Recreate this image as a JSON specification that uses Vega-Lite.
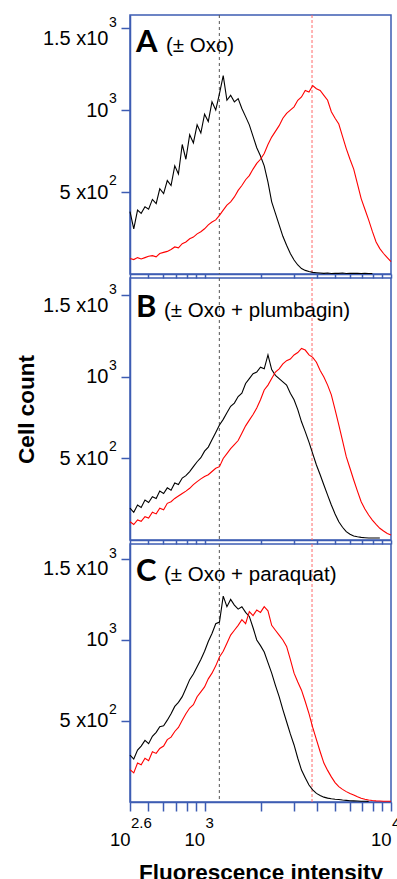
{
"$schema": "https://vega.github.io/schema/vega-lite/v6.json",
"padding": {"left": 14, "top": 13, "right": 0, "bottom": 0},
"background": "white",
"spacing": 4,
"bounds": "flush",
"config": {
  "font": "Liberation Sans",
  "view": {"stroke": "#3d5cb3", "strokeWidth": 1.5},
  "axis": {"grid": false, "domainColor": "#3d5cb3", "domainWidth": 1.5, "tickColor": "#3d5cb3", "tickWidth": 1.5, "labelColor": "#000000", "labelFont": "Liberation Sans", "titleFont": "Liberation Sans", "titleColor": "#000000"}
},
"datasets": {
  "modes": [{"line": "ctrl", "fi": 1200}, {"line": "oxo", "fi": 3770}],
  "tags": [
    {"panel": "A", "tag": "A", "desc": "(± Oxo)"},
    {"panel": "B", "tag": "B", "desc": "(± Oxo + plumbagin)"},
    {"panel": "C", "tag": "C", "desc": "(± Oxo + paraquat)"}
  ],
  "yexp": [{"n": 1500, "e": "3"}, {"n": 1000, "e": "3"}, {"n": 500, "e": "2"}],
  "xexp": [{"fi": 398.1, "e": "2.6"}, {"fi": 1000, "e": "3"}, {"fi": 10000, "e": "4"}],
  "hist": [
{"panel":"A","line":"ctrl","fi":398.1,"n":380},{"panel":"A","line":"ctrl","fi":417,"n":275},{"panel":"A","line":"ctrl","fi":437,"n":390},{"panel":"A","line":"ctrl","fi":457,"n":370},{"panel":"A","line":"ctrl","fi":479,"n":410},{"panel":"A","line":"ctrl","fi":501,"n":395},{"panel":"A","line":"ctrl","fi":525,"n":455},{"panel":"A","line":"ctrl","fi":550,"n":430},{"panel":"A","line":"ctrl","fi":575,"n":520},{"panel":"A","line":"ctrl","fi":603,"n":490},
{"panel":"A","line":"ctrl","fi":631,"n":570},{"panel":"A","line":"ctrl","fi":661,"n":540},{"panel":"A","line":"ctrl","fi":692,"n":660},{"panel":"A","line":"ctrl","fi":724,"n":610},{"panel":"A","line":"ctrl","fi":759,"n":790},{"panel":"A","line":"ctrl","fi":794,"n":700},{"panel":"A","line":"ctrl","fi":832,"n":850},{"panel":"A","line":"ctrl","fi":871,"n":800},{"panel":"A","line":"ctrl","fi":912,"n":910},{"panel":"A","line":"ctrl","fi":955,"n":860},
{"panel":"A","line":"ctrl","fi":1000,"n":975},{"panel":"A","line":"ctrl","fi":1047,"n":930},{"panel":"A","line":"ctrl","fi":1096,"n":1050},{"panel":"A","line":"ctrl","fi":1148,"n":1000},{"panel":"A","line":"ctrl","fi":1202,"n":1100},{"panel":"A","line":"ctrl","fi":1259,"n":1210},{"panel":"A","line":"ctrl","fi":1318,"n":1060},{"panel":"A","line":"ctrl","fi":1380,"n":1090},{"panel":"A","line":"ctrl","fi":1445,"n":1050},{"panel":"A","line":"ctrl","fi":1514,"n":1070},
{"panel":"A","line":"ctrl","fi":1585,"n":1010},{"panel":"A","line":"ctrl","fi":1660,"n":960},{"panel":"A","line":"ctrl","fi":1738,"n":910},{"panel":"A","line":"ctrl","fi":1820,"n":840},{"panel":"A","line":"ctrl","fi":1905,"n":770},{"panel":"A","line":"ctrl","fi":1995,"n":720},{"panel":"A","line":"ctrl","fi":2089,"n":660},{"panel":"A","line":"ctrl","fi":2188,"n":560},{"panel":"A","line":"ctrl","fi":2291,"n":440},{"panel":"A","line":"ctrl","fi":2399,"n":370},
{"panel":"A","line":"ctrl","fi":2512,"n":300},{"panel":"A","line":"ctrl","fi":2630,"n":230},{"panel":"A","line":"ctrl","fi":2754,"n":175},{"panel":"A","line":"ctrl","fi":2884,"n":125},{"panel":"A","line":"ctrl","fi":3020,"n":85},{"panel":"A","line":"ctrl","fi":3162,"n":55},{"panel":"A","line":"ctrl","fi":3311,"n":33},{"panel":"A","line":"ctrl","fi":3467,"n":22},{"panel":"A","line":"ctrl","fi":3631,"n":15},{"panel":"A","line":"ctrl","fi":3802,"n":10},
{"panel":"A","line":"ctrl","fi":3981,"n":8},{"panel":"A","line":"ctrl","fi":4169,"n":6},{"panel":"A","line":"ctrl","fi":4365,"n":4},{"panel":"A","line":"ctrl","fi":4571,"n":6},{"panel":"A","line":"ctrl","fi":4786,"n":3},{"panel":"A","line":"ctrl","fi":5012,"n":5},{"panel":"A","line":"ctrl","fi":5248,"n":4},{"panel":"A","line":"ctrl","fi":5495,"n":6},{"panel":"A","line":"ctrl","fi":5754,"n":3},{"panel":"A","line":"ctrl","fi":6026,"n":5},
{"panel":"A","line":"ctrl","fi":6310,"n":4},{"panel":"A","line":"ctrl","fi":6607,"n":5},{"panel":"A","line":"ctrl","fi":6918,"n":3},{"panel":"A","line":"ctrl","fi":7244,"n":4},{"panel":"A","line":"ctrl","fi":7586,"n":3},{"panel":"A","line":"ctrl","fi":7943,"n":3},
{"panel":"A","line":"oxo","fi":398.1,"n":95},{"panel":"A","line":"oxo","fi":417,"n":88},{"panel":"A","line":"oxo","fi":437,"n":100},{"panel":"A","line":"oxo","fi":457,"n":92},{"panel":"A","line":"oxo","fi":479,"n":100},{"panel":"A","line":"oxo","fi":501,"n":108},{"panel":"A","line":"oxo","fi":525,"n":112},{"panel":"A","line":"oxo","fi":550,"n":105},{"panel":"A","line":"oxo","fi":575,"n":125},{"panel":"A","line":"oxo","fi":603,"n":132},
{"panel":"A","line":"oxo","fi":631,"n":138},{"panel":"A","line":"oxo","fi":661,"n":150},{"panel":"A","line":"oxo","fi":692,"n":165},{"panel":"A","line":"oxo","fi":724,"n":160},{"panel":"A","line":"oxo","fi":759,"n":185},{"panel":"A","line":"oxo","fi":794,"n":195},{"panel":"A","line":"oxo","fi":832,"n":215},{"panel":"A","line":"oxo","fi":871,"n":225},{"panel":"A","line":"oxo","fi":912,"n":245},{"panel":"A","line":"oxo","fi":955,"n":258},
{"panel":"A","line":"oxo","fi":1000,"n":276},{"panel":"A","line":"oxo","fi":1047,"n":300},{"panel":"A","line":"oxo","fi":1096,"n":317},{"panel":"A","line":"oxo","fi":1148,"n":330},{"panel":"A","line":"oxo","fi":1202,"n":358},{"panel":"A","line":"oxo","fi":1259,"n":390},{"panel":"A","line":"oxo","fi":1318,"n":420},{"panel":"A","line":"oxo","fi":1380,"n":440},{"panel":"A","line":"oxo","fi":1445,"n":470},{"panel":"A","line":"oxo","fi":1514,"n":510},
{"panel":"A","line":"oxo","fi":1585,"n":540},{"panel":"A","line":"oxo","fi":1660,"n":575},{"panel":"A","line":"oxo","fi":1738,"n":600},{"panel":"A","line":"oxo","fi":1820,"n":640},{"panel":"A","line":"oxo","fi":1905,"n":675},{"panel":"A","line":"oxo","fi":1995,"n":700},{"panel":"A","line":"oxo","fi":2089,"n":735},{"panel":"A","line":"oxo","fi":2188,"n":790},{"panel":"A","line":"oxo","fi":2291,"n":835},{"panel":"A","line":"oxo","fi":2399,"n":870},
{"panel":"A","line":"oxo","fi":2512,"n":905},{"panel":"A","line":"oxo","fi":2630,"n":950},{"panel":"A","line":"oxo","fi":2754,"n":980},{"panel":"A","line":"oxo","fi":2884,"n":1000},{"panel":"A","line":"oxo","fi":3020,"n":1020},{"panel":"A","line":"oxo","fi":3162,"n":1060},{"panel":"A","line":"oxo","fi":3311,"n":1080},{"panel":"A","line":"oxo","fi":3467,"n":1120},{"panel":"A","line":"oxo","fi":3631,"n":1110},{"panel":"A","line":"oxo","fi":3802,"n":1150},
{"panel":"A","line":"oxo","fi":3981,"n":1130},{"panel":"A","line":"oxo","fi":4169,"n":1120},{"panel":"A","line":"oxo","fi":4365,"n":1090},{"panel":"A","line":"oxo","fi":4571,"n":1060},{"panel":"A","line":"oxo","fi":4786,"n":990},{"panel":"A","line":"oxo","fi":5012,"n":950},{"panel":"A","line":"oxo","fi":5248,"n":915},{"panel":"A","line":"oxo","fi":5495,"n":840},{"panel":"A","line":"oxo","fi":5754,"n":765},{"panel":"A","line":"oxo","fi":6026,"n":700},
{"panel":"A","line":"oxo","fi":6310,"n":640},{"panel":"A","line":"oxo","fi":6607,"n":550},{"panel":"A","line":"oxo","fi":6918,"n":460},{"panel":"A","line":"oxo","fi":7244,"n":395},{"panel":"A","line":"oxo","fi":7586,"n":330},{"panel":"A","line":"oxo","fi":7943,"n":260},{"panel":"A","line":"oxo","fi":8318,"n":195},{"panel":"A","line":"oxo","fi":8710,"n":155},{"panel":"A","line":"oxo","fi":9120,"n":125},{"panel":"A","line":"oxo","fi":9550,"n":100},
{"panel":"A","line":"oxo","fi":10000,"n":75},
{"panel":"B","line":"ctrl","fi":398.1,"n":195},{"panel":"B","line":"ctrl","fi":417,"n":170},{"panel":"B","line":"ctrl","fi":437,"n":215},{"panel":"B","line":"ctrl","fi":457,"n":200},{"panel":"B","line":"ctrl","fi":479,"n":245},{"panel":"B","line":"ctrl","fi":501,"n":230},{"panel":"B","line":"ctrl","fi":525,"n":265},{"panel":"B","line":"ctrl","fi":550,"n":255},{"panel":"B","line":"ctrl","fi":575,"n":300},{"panel":"B","line":"ctrl","fi":603,"n":285},
{"panel":"B","line":"ctrl","fi":631,"n":320},{"panel":"B","line":"ctrl","fi":661,"n":305},{"panel":"B","line":"ctrl","fi":692,"n":350},{"panel":"B","line":"ctrl","fi":724,"n":340},{"panel":"B","line":"ctrl","fi":759,"n":380},{"panel":"B","line":"ctrl","fi":794,"n":395},{"panel":"B","line":"ctrl","fi":832,"n":420},{"panel":"B","line":"ctrl","fi":871,"n":450},{"panel":"B","line":"ctrl","fi":912,"n":480},{"panel":"B","line":"ctrl","fi":955,"n":505},
{"panel":"B","line":"ctrl","fi":1000,"n":545},{"panel":"B","line":"ctrl","fi":1047,"n":570},{"panel":"B","line":"ctrl","fi":1096,"n":615},{"panel":"B","line":"ctrl","fi":1148,"n":660},{"panel":"B","line":"ctrl","fi":1202,"n":705},{"panel":"B","line":"ctrl","fi":1259,"n":740},{"panel":"B","line":"ctrl","fi":1318,"n":780},{"panel":"B","line":"ctrl","fi":1380,"n":820},{"panel":"B","line":"ctrl","fi":1445,"n":840},{"panel":"B","line":"ctrl","fi":1514,"n":880},
{"panel":"B","line":"ctrl","fi":1585,"n":900},{"panel":"B","line":"ctrl","fi":1660,"n":960},{"panel":"B","line":"ctrl","fi":1738,"n":990},{"panel":"B","line":"ctrl","fi":1820,"n":1020},{"panel":"B","line":"ctrl","fi":1905,"n":1030},{"panel":"B","line":"ctrl","fi":1995,"n":1060},{"panel":"B","line":"ctrl","fi":2089,"n":1050},{"panel":"B","line":"ctrl","fi":2188,"n":1135},{"panel":"B","line":"ctrl","fi":2291,"n":1045},{"panel":"B","line":"ctrl","fi":2399,"n":1010},
{"panel":"B","line":"ctrl","fi":2512,"n":990},{"panel":"B","line":"ctrl","fi":2630,"n":970},{"panel":"B","line":"ctrl","fi":2754,"n":950},{"panel":"B","line":"ctrl","fi":2884,"n":900},{"panel":"B","line":"ctrl","fi":3020,"n":860},{"panel":"B","line":"ctrl","fi":3162,"n":800},{"panel":"B","line":"ctrl","fi":3311,"n":725},{"panel":"B","line":"ctrl","fi":3467,"n":665},{"panel":"B","line":"ctrl","fi":3631,"n":600},{"panel":"B","line":"ctrl","fi":3802,"n":530},
{"panel":"B","line":"ctrl","fi":3981,"n":460},{"panel":"B","line":"ctrl","fi":4169,"n":400},{"panel":"B","line":"ctrl","fi":4365,"n":337},{"panel":"B","line":"ctrl","fi":4571,"n":275},{"panel":"B","line":"ctrl","fi":4786,"n":215},{"panel":"B","line":"ctrl","fi":5012,"n":160},{"panel":"B","line":"ctrl","fi":5248,"n":112},{"panel":"B","line":"ctrl","fi":5495,"n":78},{"panel":"B","line":"ctrl","fi":5754,"n":51},{"panel":"B","line":"ctrl","fi":6026,"n":35},
{"panel":"B","line":"ctrl","fi":6310,"n":25},{"panel":"B","line":"ctrl","fi":6607,"n":20},{"panel":"B","line":"ctrl","fi":6918,"n":16},{"panel":"B","line":"ctrl","fi":7244,"n":14},{"panel":"B","line":"ctrl","fi":7586,"n":12},{"panel":"B","line":"ctrl","fi":7943,"n":12},{"panel":"B","line":"ctrl","fi":8318,"n":12},{"panel":"B","line":"ctrl","fi":8710,"n":12},
{"panel":"B","line":"oxo","fi":398.1,"n":112},{"panel":"B","line":"oxo","fi":417,"n":95},{"panel":"B","line":"oxo","fi":437,"n":123},{"panel":"B","line":"oxo","fi":457,"n":115},{"panel":"B","line":"oxo","fi":479,"n":143},{"panel":"B","line":"oxo","fi":501,"n":135},{"panel":"B","line":"oxo","fi":525,"n":170},{"panel":"B","line":"oxo","fi":550,"n":160},{"panel":"B","line":"oxo","fi":575,"n":195},{"panel":"B","line":"oxo","fi":603,"n":185},
{"panel":"B","line":"oxo","fi":631,"n":225},{"panel":"B","line":"oxo","fi":661,"n":235},{"panel":"B","line":"oxo","fi":692,"n":255},{"panel":"B","line":"oxo","fi":724,"n":270},{"panel":"B","line":"oxo","fi":759,"n":285},{"panel":"B","line":"oxo","fi":794,"n":300},{"panel":"B","line":"oxo","fi":832,"n":317},{"panel":"B","line":"oxo","fi":871,"n":340},{"panel":"B","line":"oxo","fi":912,"n":358},{"panel":"B","line":"oxo","fi":955,"n":375},
{"panel":"B","line":"oxo","fi":1000,"n":390},{"panel":"B","line":"oxo","fi":1047,"n":400},{"panel":"B","line":"oxo","fi":1096,"n":420},{"panel":"B","line":"oxo","fi":1148,"n":440},{"panel":"B","line":"oxo","fi":1202,"n":450},{"panel":"B","line":"oxo","fi":1259,"n":500},{"panel":"B","line":"oxo","fi":1318,"n":530},{"panel":"B","line":"oxo","fi":1380,"n":560},{"panel":"B","line":"oxo","fi":1445,"n":585},{"panel":"B","line":"oxo","fi":1514,"n":610},
{"panel":"B","line":"oxo","fi":1585,"n":655},{"panel":"B","line":"oxo","fi":1660,"n":700},{"panel":"B","line":"oxo","fi":1738,"n":735},{"panel":"B","line":"oxo","fi":1820,"n":770},{"panel":"B","line":"oxo","fi":1905,"n":810},{"panel":"B","line":"oxo","fi":1995,"n":860},{"panel":"B","line":"oxo","fi":2089,"n":920},{"panel":"B","line":"oxo","fi":2188,"n":950},{"panel":"B","line":"oxo","fi":2291,"n":990},{"panel":"B","line":"oxo","fi":2399,"n":1030},
{"panel":"B","line":"oxo","fi":2512,"n":1050},{"panel":"B","line":"oxo","fi":2630,"n":1080},{"panel":"B","line":"oxo","fi":2754,"n":1100},{"panel":"B","line":"oxo","fi":2884,"n":1110},{"panel":"B","line":"oxo","fi":3020,"n":1135},{"panel":"B","line":"oxo","fi":3162,"n":1150},{"panel":"B","line":"oxo","fi":3311,"n":1175},{"panel":"B","line":"oxo","fi":3467,"n":1165},{"panel":"B","line":"oxo","fi":3631,"n":1135},{"panel":"B","line":"oxo","fi":3802,"n":1120},
{"panel":"B","line":"oxo","fi":3981,"n":1090},{"panel":"B","line":"oxo","fi":4169,"n":1040},{"panel":"B","line":"oxo","fi":4365,"n":1000},{"panel":"B","line":"oxo","fi":4571,"n":950},{"panel":"B","line":"oxo","fi":4786,"n":890},{"panel":"B","line":"oxo","fi":5012,"n":800},{"panel":"B","line":"oxo","fi":5248,"n":706},{"panel":"B","line":"oxo","fi":5495,"n":610},{"panel":"B","line":"oxo","fi":5754,"n":511},{"panel":"B","line":"oxo","fi":6026,"n":440},
{"panel":"B","line":"oxo","fi":6310,"n":368},{"panel":"B","line":"oxo","fi":6607,"n":300},{"panel":"B","line":"oxo","fi":6918,"n":235},{"panel":"B","line":"oxo","fi":7244,"n":190},{"panel":"B","line":"oxo","fi":7586,"n":153},{"panel":"B","line":"oxo","fi":7943,"n":122},{"panel":"B","line":"oxo","fi":8318,"n":96},{"panel":"B","line":"oxo","fi":8710,"n":72},{"panel":"B","line":"oxo","fi":9120,"n":55},{"panel":"B","line":"oxo","fi":9550,"n":40},
{"panel":"B","line":"oxo","fi":10000,"n":31},
{"panel":"C","line":"ctrl","fi":398.1,"n":290},{"panel":"C","line":"ctrl","fi":417,"n":265},{"panel":"C","line":"ctrl","fi":437,"n":320},{"panel":"C","line":"ctrl","fi":457,"n":345},{"panel":"C","line":"ctrl","fi":479,"n":380},{"panel":"C","line":"ctrl","fi":501,"n":360},{"panel":"C","line":"ctrl","fi":525,"n":405},{"panel":"C","line":"ctrl","fi":550,"n":430},{"panel":"C","line":"ctrl","fi":575,"n":465},{"panel":"C","line":"ctrl","fi":603,"n":470},
{"panel":"C","line":"ctrl","fi":631,"n":505},{"panel":"C","line":"ctrl","fi":661,"n":545},{"panel":"C","line":"ctrl","fi":692,"n":590},{"panel":"C","line":"ctrl","fi":724,"n":615},{"panel":"C","line":"ctrl","fi":759,"n":650},{"panel":"C","line":"ctrl","fi":794,"n":700},{"panel":"C","line":"ctrl","fi":832,"n":755},{"panel":"C","line":"ctrl","fi":871,"n":790},{"panel":"C","line":"ctrl","fi":912,"n":835},{"panel":"C","line":"ctrl","fi":955,"n":880},
{"panel":"C","line":"ctrl","fi":1000,"n":930},{"panel":"C","line":"ctrl","fi":1047,"n":990},{"panel":"C","line":"ctrl","fi":1096,"n":1040},{"panel":"C","line":"ctrl","fi":1148,"n":1100},{"panel":"C","line":"ctrl","fi":1202,"n":1110},{"panel":"C","line":"ctrl","fi":1259,"n":1270},{"panel":"C","line":"ctrl","fi":1318,"n":1205},{"panel":"C","line":"ctrl","fi":1380,"n":1250},{"panel":"C","line":"ctrl","fi":1445,"n":1215},{"panel":"C","line":"ctrl","fi":1514,"n":1190},
{"panel":"C","line":"ctrl","fi":1585,"n":1205},{"panel":"C","line":"ctrl","fi":1660,"n":1170},{"panel":"C","line":"ctrl","fi":1738,"n":1145},{"panel":"C","line":"ctrl","fi":1820,"n":1075},{"panel":"C","line":"ctrl","fi":1905,"n":1000},{"panel":"C","line":"ctrl","fi":1995,"n":965},{"panel":"C","line":"ctrl","fi":2089,"n":925},{"panel":"C","line":"ctrl","fi":2188,"n":860},{"panel":"C","line":"ctrl","fi":2291,"n":795},{"panel":"C","line":"ctrl","fi":2399,"n":720},
{"panel":"C","line":"ctrl","fi":2512,"n":650},{"panel":"C","line":"ctrl","fi":2630,"n":570},{"panel":"C","line":"ctrl","fi":2754,"n":495},{"panel":"C","line":"ctrl","fi":2884,"n":420},{"panel":"C","line":"ctrl","fi":3020,"n":352},{"panel":"C","line":"ctrl","fi":3162,"n":270},{"panel":"C","line":"ctrl","fi":3311,"n":197},{"panel":"C","line":"ctrl","fi":3467,"n":150},{"panel":"C","line":"ctrl","fi":3631,"n":105},{"panel":"C","line":"ctrl","fi":3802,"n":75},
{"panel":"C","line":"ctrl","fi":3981,"n":53},{"panel":"C","line":"ctrl","fi":4169,"n":40},{"panel":"C","line":"ctrl","fi":4365,"n":30},{"panel":"C","line":"ctrl","fi":4571,"n":24},{"panel":"C","line":"ctrl","fi":4786,"n":20},{"panel":"C","line":"ctrl","fi":5012,"n":17},{"panel":"C","line":"ctrl","fi":5248,"n":15},{"panel":"C","line":"ctrl","fi":5495,"n":12},{"panel":"C","line":"ctrl","fi":5754,"n":10},{"panel":"C","line":"ctrl","fi":6026,"n":8},
{"panel":"C","line":"ctrl","fi":6310,"n":7},{"panel":"C","line":"ctrl","fi":6607,"n":6},{"panel":"C","line":"ctrl","fi":6918,"n":5},{"panel":"C","line":"ctrl","fi":7244,"n":5},{"panel":"C","line":"ctrl","fi":7586,"n":4},
{"panel":"C","line":"oxo","fi":398.1,"n":200},{"panel":"C","line":"oxo","fi":417,"n":180},{"panel":"C","line":"oxo","fi":437,"n":240},{"panel":"C","line":"oxo","fi":457,"n":230},{"panel":"C","line":"oxo","fi":479,"n":270},{"panel":"C","line":"oxo","fi":501,"n":255},{"panel":"C","line":"oxo","fi":525,"n":310},{"panel":"C","line":"oxo","fi":550,"n":300},{"panel":"C","line":"oxo","fi":575,"n":330},{"panel":"C","line":"oxo","fi":603,"n":345},
{"panel":"C","line":"oxo","fi":631,"n":385},{"panel":"C","line":"oxo","fi":661,"n":400},{"panel":"C","line":"oxo","fi":692,"n":435},{"panel":"C","line":"oxo","fi":724,"n":460},{"panel":"C","line":"oxo","fi":759,"n":505},{"panel":"C","line":"oxo","fi":794,"n":545},{"panel":"C","line":"oxo","fi":832,"n":580},{"panel":"C","line":"oxo","fi":871,"n":600},{"panel":"C","line":"oxo","fi":912,"n":650},{"panel":"C","line":"oxo","fi":955,"n":680},
{"panel":"C","line":"oxo","fi":1000,"n":710},{"panel":"C","line":"oxo","fi":1047,"n":760},{"panel":"C","line":"oxo","fi":1096,"n":795},{"panel":"C","line":"oxo","fi":1148,"n":840},{"panel":"C","line":"oxo","fi":1202,"n":895},{"panel":"C","line":"oxo","fi":1259,"n":930},{"panel":"C","line":"oxo","fi":1318,"n":980},{"panel":"C","line":"oxo","fi":1380,"n":1030},{"panel":"C","line":"oxo","fi":1445,"n":1060},{"panel":"C","line":"oxo","fi":1514,"n":1090},
{"panel":"C","line":"oxo","fi":1585,"n":1125},{"panel":"C","line":"oxo","fi":1660,"n":1100},{"panel":"C","line":"oxo","fi":1738,"n":1175},{"panel":"C","line":"oxo","fi":1820,"n":1150},{"panel":"C","line":"oxo","fi":1905,"n":1185},{"panel":"C","line":"oxo","fi":1995,"n":1170},{"panel":"C","line":"oxo","fi":2089,"n":1205},{"panel":"C","line":"oxo","fi":2188,"n":1180},{"panel":"C","line":"oxo","fi":2291,"n":1090},{"panel":"C","line":"oxo","fi":2399,"n":1060},
{"panel":"C","line":"oxo","fi":2512,"n":1030},{"panel":"C","line":"oxo","fi":2630,"n":1000},{"panel":"C","line":"oxo","fi":2754,"n":960},{"panel":"C","line":"oxo","fi":2884,"n":880},{"panel":"C","line":"oxo","fi":3020,"n":795},{"panel":"C","line":"oxo","fi":3162,"n":740},{"panel":"C","line":"oxo","fi":3311,"n":690},{"panel":"C","line":"oxo","fi":3467,"n":620},{"panel":"C","line":"oxo","fi":3631,"n":545},{"panel":"C","line":"oxo","fi":3802,"n":460},
{"panel":"C","line":"oxo","fi":3981,"n":385},{"panel":"C","line":"oxo","fi":4169,"n":310},{"panel":"C","line":"oxo","fi":4365,"n":240},{"panel":"C","line":"oxo","fi":4571,"n":195},{"panel":"C","line":"oxo","fi":4786,"n":155},{"panel":"C","line":"oxo","fi":5012,"n":120},{"panel":"C","line":"oxo","fi":5248,"n":95},{"panel":"C","line":"oxo","fi":5495,"n":78},{"panel":"C","line":"oxo","fi":5754,"n":64},{"panel":"C","line":"oxo","fi":6026,"n":52},
{"panel":"C","line":"oxo","fi":6310,"n":43},{"panel":"C","line":"oxo","fi":6607,"n":32},{"panel":"C","line":"oxo","fi":6918,"n":23},{"panel":"C","line":"oxo","fi":7244,"n":17},{"panel":"C","line":"oxo","fi":7586,"n":12},{"panel":"C","line":"oxo","fi":7943,"n":9},{"panel":"C","line":"oxo","fi":8318,"n":7},{"panel":"C","line":"oxo","fi":8710,"n":6},{"panel":"C","line":"oxo","fi":9120,"n":5},{"panel":"C","line":"oxo","fi":9550,"n":5},
{"panel":"C","line":"oxo","fi":10000,"n":5}
  ]
},
"vconcat": [
{
  "width": 261, "height": 259,
  "layer": [
    {"data": {"name": "modes"}, "transform": [{"filter": "datum.line == 'ctrl'"}], "mark": {"type": "rule", "color": "#555555", "strokeDash": [3, 3], "strokeWidth": 1}, "encoding": {"x": {"field": "fi", "type": "quantitative", "scale": {"type": "log", "domain": [398.1, 10000], "nice": false}}}},
    {"data": {"name": "modes"}, "transform": [{"filter": "datum.line == 'oxo'"}], "mark": {"type": "rule", "color": "#ff6b6b", "strokeDash": [3, 2], "strokeWidth": 1}, "encoding": {"x": {"field": "fi", "type": "quantitative"}}},
    {"data": {"name": "hist"}, "transform": [{"filter": "datum.panel == 'A'"}], "mark": {"type": "line", "interpolate": "linear", "strokeWidth": 1.1},
     "encoding": {
      "x": {"field": "fi", "type": "quantitative", "scale": {"type": "log", "domain": [398.1, 10000], "nice": false}, "axis": {"values": [398.1, 500, 600, 700, 800, 900, 1000, 2000, 3000, 4000, 5000, 6000, 7000, 8000, 9000, 10000], "labels": false, "title": null, "tickSize": 4}},
      "y": {"field": "n", "type": "quantitative", "scale": {"domain": [0, 1580], "nice": false}, "axis": {"values": [500, 1000, 1500], "labelExpr": "datum.value == 1500 ? '1.5 x10' : datum.value == 1000 ? '10' : '5 x10'", "title": null, "tickSize": 9, "labelPadding": 13, "labelFontSize": 20, "labelBaseline": {"condition": {"test": "datum.value == 1500", "value": "top"}, "value": "middle"}}},
      "color": {"field": "line", "type": "nominal", "scale": {"domain": ["ctrl", "oxo"], "range": ["#000000", "#ff0000"]}, "legend": null}
     }},
    {"data": {"name": "tags"}, "transform": [{"filter": "datum.panel == 'A'"}], "mark": {"type": "text", "align": "left", "baseline": "alphabetic", "font": "Lato", "fontWeight": "bold", "fontSize": 31, "dx": 6, "dy": 37}, "encoding": {"x": {"datum": 398.1}, "y": {"datum": 1580}, "text": {"field": "tag"}}},
    {"data": {"name": "tags"}, "transform": [{"filter": "datum.panel == 'A'"}], "mark": {"type": "text", "align": "left", "baseline": "alphabetic", "fontSize": 20.5, "dx": 36, "dy": 37}, "encoding": {"x": {"datum": 398.1}, "y": {"datum": 1580}, "text": {"field": "desc"}}},
    {"data": {"name": "yexp"}, "transform": [{"filter": "datum.n == 1500"}], "mark": {"type": "text", "align": "left", "baseline": "alphabetic", "fontSize": 14, "dx": -21, "dy": -1}, "encoding": {"x": {"datum": 398.1}, "y": {"field": "n", "type": "quantitative"}, "text": {"field": "e"}}},
    {"data": {"name": "yexp"}, "transform": [{"filter": "datum.n < 1500"}], "mark": {"type": "text", "align": "left", "baseline": "alphabetic", "fontSize": 14, "dx": -21, "dy": -7}, "encoding": {"x": {"datum": 398.1}, "y": {"field": "n", "type": "quantitative"}, "text": {"field": "e"}}}
  ]
},
{
  "width": 261, "height": 262,
  "layer": [
    {"data": {"name": "modes"}, "transform": [{"filter": "datum.line == 'ctrl'"}], "mark": {"type": "rule", "color": "#555555", "strokeDash": [3, 3], "strokeWidth": 1}, "encoding": {"x": {"field": "fi", "type": "quantitative", "scale": {"type": "log", "domain": [398.1, 10000], "nice": false}}}},
    {"data": {"name": "modes"}, "transform": [{"filter": "datum.line == 'oxo'"}], "mark": {"type": "rule", "color": "#ff6b6b", "strokeDash": [3, 2], "strokeWidth": 1}, "encoding": {"x": {"field": "fi", "type": "quantitative"}}},
    {"data": {"name": "hist"}, "transform": [{"filter": "datum.panel == 'B'"}], "mark": {"type": "line", "interpolate": "linear", "strokeWidth": 1.1},
     "encoding": {
      "x": {"field": "fi", "type": "quantitative", "scale": {"type": "log", "domain": [398.1, 10000], "nice": false}, "axis": {"values": [398.1, 500, 600, 700, 800, 900, 1000, 2000, 3000, 4000, 5000, 6000, 7000, 8000, 9000, 10000], "labels": false, "title": null, "tickSize": 4}},
      "y": {"field": "n", "type": "quantitative", "scale": {"domain": [0, 1607], "nice": false}, "axis": {"values": [500, 1000, 1500], "labelExpr": "datum.value == 1500 ? '1.5 x10' : datum.value == 1000 ? '10' : '5 x10'", "title": "Cell count", "titleFontSize": 22.5, "titleFontWeight": "bold", "titlePadding": 4, "tickSize": 9, "labelPadding": 13, "labelFontSize": 20, "labelBaseline": {"condition": {"test": "datum.value == 1500", "value": "top"}, "value": "middle"}}},
      "color": {"field": "line", "type": "nominal", "scale": {"domain": ["ctrl", "oxo"], "range": ["#000000", "#ff0000"]}, "legend": null}
     }},
    {"data": {"name": "tags"}, "transform": [{"filter": "datum.panel == 'B'"}], "mark": {"type": "text", "align": "left", "baseline": "alphabetic", "font": "Lato", "fontWeight": "bold", "fontSize": 31, "dx": 6, "dy": 39}, "encoding": {"x": {"datum": 398.1}, "y": {"datum": 1607}, "text": {"field": "tag"}}},
    {"data": {"name": "tags"}, "transform": [{"filter": "datum.panel == 'B'"}], "mark": {"type": "text", "align": "left", "baseline": "alphabetic", "fontSize": 20.5, "dx": 34, "dy": 39}, "encoding": {"x": {"datum": 398.1}, "y": {"datum": 1607}, "text": {"field": "desc"}}},
    {"data": {"name": "yexp"}, "transform": [{"filter": "datum.n == 1500"}], "mark": {"type": "text", "align": "left", "baseline": "alphabetic", "fontSize": 14, "dx": -21, "dy": -1}, "encoding": {"x": {"datum": 398.1}, "y": {"field": "n", "type": "quantitative"}, "text": {"field": "e"}}},
    {"data": {"name": "yexp"}, "transform": [{"filter": "datum.n < 1500"}], "mark": {"type": "text", "align": "left", "baseline": "alphabetic", "fontSize": 14, "dx": -21, "dy": -7}, "encoding": {"x": {"datum": 398.1}, "y": {"field": "n", "type": "quantitative"}, "text": {"field": "e"}}}
  ]
},
{
  "width": 261, "height": 258,
  "layer": [
    {"data": {"name": "modes"}, "transform": [{"filter": "datum.line == 'ctrl'"}], "mark": {"type": "rule", "color": "#555555", "strokeDash": [3, 3], "strokeWidth": 1}, "encoding": {"x": {"field": "fi", "type": "quantitative", "scale": {"type": "log", "domain": [398.1, 10000], "nice": false}}}},
    {"data": {"name": "modes"}, "transform": [{"filter": "datum.line == 'oxo'"}], "mark": {"type": "rule", "color": "#ff6b6b", "strokeDash": [3, 2], "strokeWidth": 1}, "encoding": {"x": {"field": "fi", "type": "quantitative"}}},
    {"data": {"name": "hist"}, "transform": [{"filter": "datum.panel == 'C'"}], "mark": {"type": "line", "interpolate": "linear", "strokeWidth": 1.1},
     "encoding": {
      "x": {"field": "fi", "type": "quantitative", "scale": {"type": "log", "domain": [398.1, 10000], "nice": false}, "axis": {"values": [398.1, 500, 600, 700, 800, 900, 1000, 2000, 3000, 4000, 5000, 6000, 7000, 8000, 9000, 10000], "labelExpr": "(datum.value < 400 || datum.value == 1000 || datum.value == 10000) ? '10' : ''", "labelAlign": "right", "labelFontSize": 18.5, "labelPadding": 19.5, "labelFlush": false, "labelOverlap": false, "labelBound": false, "tickSize": 9, "title": "Fluorescence intensity", "titleFontSize": 22.5, "titleFontWeight": "bold", "titlePadding": 12}},
      "y": {"field": "n", "type": "quantitative", "scale": {"domain": [0, 1592], "nice": false}, "axis": {"values": [500, 1000, 1500], "labelExpr": "datum.value == 1500 ? '1.5 x10' : datum.value == 1000 ? '10' : '5 x10'", "title": null, "tickSize": 9, "labelPadding": 13, "labelFontSize": 20, "labelBaseline": {"condition": {"test": "datum.value == 1500", "value": "top"}, "value": "middle"}}},
      "color": {"field": "line", "type": "nominal", "scale": {"domain": ["ctrl", "oxo"], "range": ["#000000", "#ff0000"]}, "legend": null}
     }},
    {"data": {"name": "tags"}, "transform": [{"filter": "datum.panel == 'C'"}], "mark": {"type": "text", "align": "left", "baseline": "alphabetic", "font": "Lato", "fontWeight": "bold", "fontSize": 31, "dx": 6, "dy": 37}, "encoding": {"x": {"datum": 398.1}, "y": {"datum": 1592}, "text": {"field": "tag"}}},
    {"data": {"name": "tags"}, "transform": [{"filter": "datum.panel == 'C'"}], "mark": {"type": "text", "align": "left", "baseline": "alphabetic", "fontSize": 20.5, "dx": 34, "dy": 37}, "encoding": {"x": {"datum": 398.1}, "y": {"datum": 1592}, "text": {"field": "desc"}}},
    {"data": {"name": "yexp"}, "transform": [{"filter": "datum.n == 1500"}], "mark": {"type": "text", "align": "left", "baseline": "alphabetic", "fontSize": 14, "dx": -21, "dy": -1}, "encoding": {"x": {"datum": 398.1}, "y": {"field": "n", "type": "quantitative"}, "text": {"field": "e"}}},
    {"data": {"name": "yexp"}, "transform": [{"filter": "datum.n < 1500"}], "mark": {"type": "text", "align": "left", "baseline": "alphabetic", "fontSize": 14, "dx": -21, "dy": -7}, "encoding": {"x": {"datum": 398.1}, "y": {"field": "n", "type": "quantitative"}, "text": {"field": "e"}}},
    {"data": {"name": "xexp"}, "mark": {"type": "text", "align": "left", "baseline": "alphabetic", "fontSize": 15, "dx": 1, "dy": 26}, "encoding": {"x": {"field": "fi", "type": "quantitative"}, "y": {"datum": 0}, "text": {"field": "e"}}}
  ]
}
]
}
